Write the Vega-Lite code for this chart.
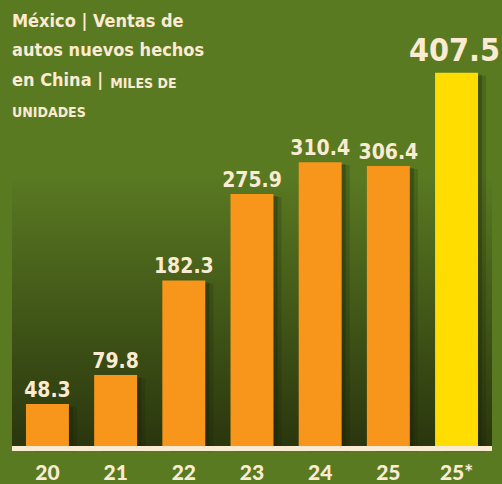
{
  "$schema": "https://vega.github.io/schema/vega-lite/v6.json",
  "width": 480,
  "height": 448.5,
  "autosize": {"type": "none"},
  "padding": {"left": 12, "top": 0, "right": 10, "bottom": 35.5},
  "background": "#5A7A22",
  "config": {
    "view": {"stroke": null},
    "scale": {"bandPaddingInner": 0.37, "bandPaddingOuter": 0.205},
    "axisX": {
      "domain": false, "ticks": false, "grid": false, "labelAngle": 0,
      "labelPadding": 14, "labelFont": "Lato", "labelFontSize": 21,
      "labelFontWeight": 900, "labelColor": "#FCEBD3", "title": null
    }
  },
  "title": {
    "text": ["México | Ventas de", "autos nuevos hechos", "en China |"],
    "subtitle": ["UNIDADES"],
    "anchor": "start",
    "frame": "group",
    "orient": "top",
    "offset": -120,
    "font": "DejaVu Sans Condensed",
    "fontSize": 18,
    "fontWeight": "bold",
    "color": "#FCEBD3",
    "lineHeight": 29.5,
    "subtitleFont": "DejaVu Sans Condensed",
    "subtitleFontSize": 14,
    "subtitleFontWeight": "bold",
    "subtitleColor": "#FCEBD3",
    "subtitleLineHeight": 29.5,
    "subtitlePadding": 16.5
  },
  "data": {
    "values": [
      {"year": "20", "value": 48.3, "kind": "real"},
      {"year": "21", "value": 79.8, "kind": "real"},
      {"year": "22", "value": 182.3, "kind": "real"},
      {"year": "23", "value": 275.9, "kind": "real"},
      {"year": "24", "value": 310.4, "kind": "real"},
      {"year": "25", "value": 306.4, "kind": "real"},
      {"year": "25*", "value": 407.5, "kind": "est"}
    ]
  },
  "layer": [
    {
      "data": {"values": [{}]},
      "mark": {
        "type": "rect",
        "color": {
          "gradient": "linear", "x1": 0, "y1": 0, "x2": 0, "y2": 1,
          "stops": [
            {"offset": 0, "color": "rgba(28,34,8,0)"},
            {"offset": 1, "color": "rgba(28,34,8,0.78)"}
          ]
        }
      },
      "encoding": {
        "y": {"datum": 300, "type": "quantitative", "scale": {"domain": [0, 486.4], "nice": false}, "axis": null},
        "y2": {"datum": 0}
      }
    },
    {
      "mark": {"type": "bar", "color": "#1a2006", "opacity": 0.3, "xOffset": 4, "yOffset": 2},
      "encoding": {
        "x": {"field": "year", "type": "ordinal", "sort": null},
        "y": {"field": "value", "type": "quantitative", "scale": {"domain": [0, 486.4], "nice": false}, "axis": null}
      }
    },
    {
      "mark": {"type": "bar", "color": "#1a2006", "opacity": 0.2, "xOffset": 8, "yOffset": 3},
      "encoding": {
        "x": {"field": "year", "type": "ordinal", "sort": null},
        "y": {"field": "value", "type": "quantitative", "scale": {"domain": [0, 486.4], "nice": false}, "axis": null}
      }
    },
    {
      "mark": {"type": "bar"},
      "encoding": {
        "x": {"field": "year", "type": "ordinal", "sort": null},
        "y": {"field": "value", "type": "quantitative", "scale": {"domain": [0, 486.4], "nice": false}, "axis": null},
        "color": {"field": "kind", "type": "nominal", "scale": {"domain": ["real", "est"], "range": ["#F7961A", "#FFDD00"]}, "legend": null}
      }
    },
    {
      "data": {"values": [{}]},
      "mark": {"type": "rule", "color": "#FCEBD3", "strokeWidth": 5},
      "encoding": {
        "y": {"datum": 0, "type": "quantitative", "scale": {"domain": [0, 486.4], "nice": false}, "axis": null}
      }
    },
    {
      "data": {"values": [{"note": "MILES DE"}]},
      "mark": {"type": "text", "font": "DejaVu Sans Condensed", "fontWeight": "bold", "fontSize": 14, "baseline": "alphabetic", "align": "left", "dx": -5.5, "color": "#FCEBD3"},
      "encoding": {
        "x": {"datum": "21", "type": "ordinal"},
        "y": {"datum": 391, "type": "quantitative", "scale": {"domain": [0, 486.4], "nice": false}, "axis": null},
        "text": {"field": "note", "type": "nominal"}
      }
    },
    {
      "transform": [{"filter": "datum.kind == 'real'"}],
      "mark": {"type": "text", "font": "DejaVu Sans Condensed", "fontWeight": "bold", "fontSize": 21, "baseline": "alphabetic", "dy": -7, "color": "#FCEBD3"},
      "encoding": {
        "x": {"field": "year", "type": "ordinal", "sort": null},
        "y": {"field": "value", "type": "quantitative", "scale": {"domain": [0, 486.4], "nice": false}, "axis": null},
        "text": {"field": "value", "type": "quantitative", "format": ".1f"}
      }
    },
    {
      "transform": [{"filter": "datum.kind == 'est'"}],
      "mark": {"type": "text", "font": "DejaVu Sans Condensed", "fontWeight": "bold", "fontSize": 32, "baseline": "alphabetic", "dy": -12, "dx": -2, "color": "#FCEBD3"},
      "encoding": {
        "x": {"field": "year", "type": "ordinal", "sort": null},
        "y": {"field": "value", "type": "quantitative", "scale": {"domain": [0, 486.4], "nice": false}, "axis": null},
        "text": {"field": "value", "type": "quantitative", "format": ".1f"}
      }
    }
  ]
}
